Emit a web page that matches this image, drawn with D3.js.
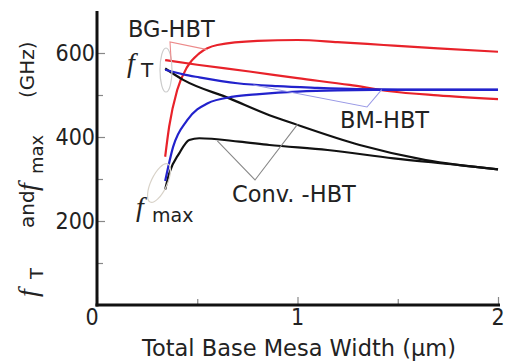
<!DOCTYPE html>
<html>
<head>
<meta charset="utf-8">
<script src="https://cdn.jsdelivr.net/npm/d3@7"></script>
<style>
  html, body { margin: 0; padding: 0; background: #fff; }
  svg { display: block; }
  text { font-family: "DejaVu Sans", sans-serif; fill: #222; }
  .cond { font-family: "DejaVu Sans Condensed", "DejaVu Sans", sans-serif; }
  .it { font-family: "Liberation Serif", "DejaVu Serif", serif; font-style: italic; }
</style>
</head>
<body>
<svg id="chart" width="507" height="362"></svg>
<script>
// Total base mesa width (um) vs. cutoff frequencies (GHz)
const bgFmaxX = [0.34, 0.36, 0.40, 0.45, 0.51, 0.60, 0.80, 1.0, 1.2, 1.43, 1.7, 2.0];
const bgFmaxY = [353, 425, 512, 567, 599, 619, 629, 631, 626, 619, 611, 603];
const bgFtX   = [0.34, 0.5, 0.76, 1.0, 1.26, 1.46, 1.7, 2.0];
const bgFtY   = [583, 572, 556, 540, 524, 509, 499, 490];
const bmFtX   = [0.34, 0.43, 0.51, 0.7, 0.9, 1.1, 1.3, 1.5, 2.0];
const bmFtY   = [560, 549, 542, 528, 521, 517, 514, 513, 513];
const bmFmaxX = [0.34, 0.38, 0.45, 0.55, 0.68, 0.81, 1.0, 1.2, 1.43, 2.0];
const bmFmaxY = [295, 377, 440, 480, 496, 502, 508, 511, 512, 512];
const cvFtX   = [0.34, 0.43, 0.66, 0.86, 0.98, 1.31, 1.64, 2.0];
const cvFtY   = [563, 536, 492, 452, 432, 381, 345, 323];
const cvFmaxX = [0.34, 0.36, 0.41, 0.46, 0.51, 0.71, 0.86, 1.15, 1.48, 1.81, 2.0];
const cvFmaxY = [275, 313, 361, 393, 397, 389, 381, 369, 349, 333, 323];

const xMajor = [0, 1, 2];
const xMinor = [0.5, 1.5];
const yMajor = [200, 400, 600];
const yMinor = [100, 300, 500];

const svg = d3.select("#chart");
const x = d3.scaleLinear().domain([0, 2]).range([97, 498]);
const y = d3.scaleLinear().domain([0, 700]).range([305, 11]);

const line = d3.line().x(d => x(d[0])).y(d => y(d[1])).curve(d3.curveMonotoneX);
const zip = (a, b) => a.map((v, i) => [v, b[i]]);

// axes: ticks point inward
const gx = svg.append("g").attr("transform", `translate(0,${y(0)})`)
  .call(d3.axisTop(x).tickValues(xMajor).tickSize(8).tickFormat(""));
const gxm = svg.append("g").attr("transform", `translate(0,${y(0)})`)
  .call(d3.axisTop(x).tickValues(xMinor).tickSize(6).tickFormat(""));
const gy = svg.append("g").attr("transform", `translate(${x(0)},0)`)
  .call(d3.axisRight(y).tickValues(yMajor).tickSize(8).tickFormat(""));
const gym = svg.append("g").attr("transform", `translate(${x(0)},0)`)
  .call(d3.axisRight(y).tickValues(yMinor).tickSize(6).tickFormat(""));
[gx, gxm, gy, gym].forEach(g => {
  g.select(".domain").remove();
  g.selectAll(".tick line").attr("stroke", "#888").attr("stroke-width", 1.2);
});
svg.append("line").attr("x1", x(0)).attr("x2", x(0)).attr("y1", y(0) + 1.5).attr("y2", y(700))
  .attr("stroke", "#111").attr("stroke-width", 3);
svg.append("line").attr("x1", x(0) - 1.5).attr("x2", x(2) + 2).attr("y1", y(0)).attr("y2", y(0))
  .attr("stroke", "#111").attr("stroke-width", 3);

// tick labels
svg.selectAll(".ylab").data(yMajor).join("text").attr("class", "cond")
  .attr("x", x(0) - 2).attr("y", d => y(d) + 8)
  .attr("text-anchor", "end").attr("font-size", 23).text(d => d);
svg.append("text").attr("class", "cond").attr("x", 92).attr("y", 325).attr("text-anchor", "middle")
  .attr("font-size", 23).text("0");
svg.selectAll(".xlab").data(xMajor.slice(1)).join("text").attr("class", "cond")
  .attr("x", d => x(d)).attr("y", 325).attr("text-anchor", "middle")
  .attr("font-size", 23).text(d => d);

// axis titles
svg.append("text").attr("x", 299).attr("y", 356).attr("text-anchor", "middle")
  .attr("font-size", 22.5).text("Total Base Mesa Width (\u03bcm)");

// vertical title: separate rotated pieces placed along the axis
const yTitleParts = [
  { at: 0, base: 37, size: 28, cls: "it", txt: "f" },
  { at: 18, base: 43, size: 18, cls: "", txt: "T" },
  { at: 69, base: 34, size: 20, cls: "", txt: "and" },
  { at: 106, base: 37, size: 28, cls: "it", txt: "f" },
  { at: 123, base: 43, size: 18, cls: "", txt: "max" },
  { at: 199, base: 34, size: 20, cls: "", txt: "(GHz)" }
];
yTitleParts.forEach(p => {
  svg.append("text").attr("class", p.cls || null)
    .attr("transform", `translate(${p.base},${297 - p.at}) rotate(-90)`)
    .attr("font-size", p.size).text(p.txt);
});

// curves
const series = [
  { pts: zip(bgFmaxX, bgFmaxY), color: "#e8222a" },
  { pts: zip(bgFtX, bgFtY), color: "#e8222a" },
  { pts: zip(cvFtX, cvFtY), color: "#111" },
  { pts: zip(cvFmaxX, cvFmaxY), color: "#111" },
  { pts: zip(bmFtX, bmFtY), color: "#2222cc" },
  { pts: zip(bmFmaxX, bmFmaxY), color: "#2222cc" }
];
svg.selectAll(".curve").data(series).join("path")
  .attr("d", d => line(d.pts)).attr("fill", "none")
  .attr("stroke", d => d.color).attr("stroke-width", 2.2);

// grouping ellipses
svg.append("ellipse").attr("cx", 166).attr("cy", 70).attr("rx", 6).attr("ry", 22)
  .attr("fill", "none").attr("stroke", "#ccc").attr("stroke-width", 1.2);
svg.append("ellipse").attr("transform", "translate(159,183) rotate(25)")
  .attr("rx", 8).attr("ry", 21)
  .attr("fill", "none").attr("stroke", "#d8d2c8").attr("stroke-width", 1.2);

// leader lines
const lead = (pts, color) => svg.append("path")
  .attr("d", d3.line()(pts)).attr("fill", "none").attr("stroke", color).attr("stroke-width", 1.1);
lead([[x(0.37), y(580)], [170, 42], [x(0.55), y(608)]], "#ec8a8a");
lead([[x(0.78), y(524)], [367, 107], [x(1.42), y(513)]], "#9a9ae6");
lead([[x(0.6), y(391)], [255, 180], [x(1.0), y(430)]], "#888");

// labels
svg.append("text").attr("x", 128).attr("y", 37).attr("font-size", 22.5).text("BG-HBT");
svg.append("text").attr("x", 340).attr("y", 128).attr("font-size", 22.5).text("BM-HBT");
svg.append("text").attr("x", 232).attr("y", 202).attr("font-size", 22.5).text("Conv. -HBT");

svg.append("text").attr("class", "it").attr("x", 127).attr("y", 72).attr("font-size", 28).text("f");
svg.append("text").attr("x", 141).attr("y", 77).attr("font-size", 20).text("T");

svg.append("text").attr("class", "it").attr("x", 136).attr("y", 216).attr("font-size", 28).text("f");
svg.append("text").attr("x", 152).attr("y", 222).attr("font-size", 19).text("max");
</script>
</body>
</html>
